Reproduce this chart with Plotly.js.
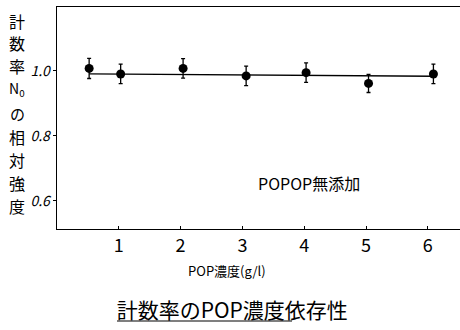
<!DOCTYPE html>
<html><head><meta charset="utf-8">
<script src="https://cdn.plot.ly/plotly-3.0.1.min.js"></script>
<style>body{margin:0;background:#fff}#c{width:460px;height:330px}</style>
</head><body><div id="c"></div>
<script>
var concX = [0.52, 1.03, 2.04, 3.06, 4.03, 5.04, 6.09];
var relIntensity = [1.007, 0.990, 1.007, 0.984, 0.994, 0.961, 0.990];
var errBar = [0.031, 0.030, 0.030, 0.030, 0.030, 0.028, 0.030];
var fitX = [0.52, 6.09];
var fitY = [0.990, 0.983];
var xTickVals = [1, 2, 3, 4, 5, 6];
var xTickText = ['1', '2', '3', '4', '5', '6'];
var yTickVals = [0.6, 0.8, 1.0];
var yTickText = ['0.6', '0.8', '1.0'];
var yTitleChars = ['計', '数', '率', 'N<sub>0</sub>', 'の', '相', '対', '強', '度'];

var font = "'Noto Sans CJK JP', 'Noto Sans', sans-serif";
var traces = [
  {x: fitX, y: fitY, mode: 'lines', line: {color: '#000', width: 1.3}, hoverinfo: 'skip', showlegend: false},
  {x: concX, y: relIntensity, mode: 'markers', marker: {color: '#000', size: 9},
   error_y: {type: 'data', array: errBar, color: '#000', thickness: 1.3, width: 2}, showlegend: false}
];
var W = 403, H = 222, L = 57, T = 7;
function px(x) { return (x - L) / W; }
function py(y) { return (T + H - y) / H; }
var layout = {
  width: 460, height: 330,
  margin: {l: L, r: 0, t: T, b: 330 - T - H},
  paper_bgcolor: '#fff', plot_bgcolor: '#fff',
  font: {family: font, color: '#000'},
  title: {text: '計数率のPOP濃度依存性', font: {size: 21, family: font},
          x: 0.505, xanchor: 'center', yref: 'container', y: 0.058, yanchor: 'middle'},
  xaxis: {range: [0, 6.52], showgrid: false, zeroline: false, showline: true, linecolor: '#000', linewidth: 1.3,
          mirror: true, ticks: 'inside', ticklen: 3, tickcolor: '#000',
          tickvals: xTickVals, ticktext: xTickText, tickfont: {size: 18, family: font}},
  yaxis: {range: [0.513, 1.196], showgrid: false, zeroline: false, showline: true, linecolor: '#000', linewidth: 1.3,
          mirror: false, ticks: 'outside', ticklen: 3, tickcolor: '#000',
          tickvals: yTickVals, ticktext: yTickText, tickfont: {size: 14, family: font, style: 'italic'}},
  annotations: [
    {x: 4.07, y: 0.655, xref: 'x', yref: 'y', text: 'POPOP無添加', showarrow: false,
     font: {size: 16, family: font}},
    {x: px(227), y: py(282), xref: 'paper', yref: 'paper', text: 'POP濃度(g/l)', showarrow: false,
     font: {size: 13, family: font}}
  ],
  shapes: [
    {type: 'line', xref: 'paper', yref: 'paper', x0: px(117), x1: px(292),
     y0: py(321), y1: py(321), line: {color: '#000', width: 1.2}}
  ]
};
var yPos = [21, 43, 66, 89, 114, 137, 160, 183, 206];
var ySize = [16, 16, 16, 14, 15, 16, 16, 16, 16];
for (var i = 0; i < yTitleChars.length; i++) {
  layout.annotations.push({x: px(17), y: py(yPos[i]), xref: 'paper', yref: 'paper',
    text: yTitleChars[i], showarrow: false, font: {size: ySize[i], family: font},
    xanchor: 'center', yanchor: 'middle'});
}
Plotly.newPlot('c', traces, layout, {displayModeBar: false, staticPlot: true});
</script>
</body></html>
